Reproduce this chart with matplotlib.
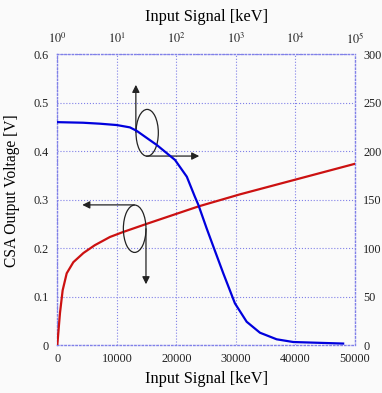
import matplotlib
matplotlib.use("Agg")
import matplotlib.pyplot as plt
from matplotlib.patches import Ellipse
from matplotlib.ticker import FixedLocator, FixedFormatter

# Red curve: CSA output voltage vs input signal (linear bottom axis, left axis)
red_x = [0, 170, 450, 900, 1580, 2700, 4400, 6300, 8850, 11000, 15000, 23700, 30700, 50000]
red_y = [0, 0.025, 0.066, 0.113, 0.148, 0.171, 0.190, 0.206, 0.223, 0.233, 0.250, 0.286, 0.311, 0.374]

# Blue curve: vs input signal on log top axis, right axis
blue_x = [1, 2.7, 5.2, 10, 16.6, 21.6, 47, 95, 150, 205, 235, 323, 420, 615, 965, 1520, 2540, 4850, 9200, 63500]
blue_y = [230, 229.4, 228.4, 227, 224.6, 221, 206.4, 191, 173.7, 153, 144.5, 120.4, 101.4, 74, 43, 24, 12.7, 5.9, 3.1, 1.5]

bottom_ticks = [0, 10000, 20000, 30000, 40000, 50000]
left_ticks = [0, 0.1, 0.2, 0.3, 0.4, 0.5, 0.6]
left_labels = ["0", "0.1", "0.2", "0.3", "0.4", "0.5", "0.6"]
right_ticks = [0, 50, 100, 150, 200, 250, 300]
top_ticks = [1, 10, 100, 1000, 10000, 100000]
top_labels = [r"$10^{0}$", r"$10^{1}$", r"$10^{2}$", r"$10^{3}$", r"$10^{4}$", r"$10^{5}$"]

plt.rcParams['font.family'] = ['Liberation Serif', 'DejaVu Serif']
plt.rcParams['mathtext.fontset'] = 'stix'

bg = '#fafafa'
gridc = '#8080e8'
fig = plt.figure(figsize=(3.82, 3.93), dpi=100, facecolor=bg)
pos = [0.150, 0.1221, 0.779, 0.7397]
ax = fig.add_axes(pos, facecolor=bg)
axt = fig.add_axes(pos, frameon=False)
axt.patch.set_alpha(0)

ax.set_xlim(0, 50000)
ax.set_ylim(0, 0.6)
ax.set_xticks(bottom_ticks)
ax.set_xticklabels([str(t) for t in bottom_ticks])
ax.set_yticks(left_ticks)
ax.set_yticklabels(left_labels)
ax.grid(True, color=gridc, linestyle=':', linewidth=0.8)
for s in ax.spines.values():
    s.set_color(gridc)
    s.set_linestyle(':')
    s.set_linewidth(1.0)
ax.tick_params(length=0, labelsize=8.8, colors='#222222', pad=6)
ax.set_xlabel("Input Signal [keV]", fontsize=11.8, labelpad=4)
ax.set_ylabel("CSA Output Voltage [V]", fontsize=11.2)
ax.yaxis.set_label_coords(-0.125, 0.53)

ax.plot(red_x, red_y, color='#cc1111', lw=1.6, zorder=3)

axt.set_xscale('log')
axt.set_xlim(1, 1e5)
axt.set_ylim(0, 300)
axt.xaxis.set_ticks_position('top')
axt.xaxis.set_label_position('top')
axt.yaxis.set_ticks_position('right')
axt.yaxis.set_label_position('right')
axt.xaxis.set_major_locator(FixedLocator(top_ticks))
axt.xaxis.set_major_formatter(FixedFormatter(top_labels))
axt.xaxis.set_minor_locator(FixedLocator([]))
axt.set_yticks(right_ticks)
axt.set_yticklabels([str(t) for t in right_ticks])
axt.tick_params(length=0, labelsize=8.8, colors='#222222', pad=6)
axt.set_xlabel("Input Signal [keV]", fontsize=11.8, labelpad=7)

axt.plot(blue_x, blue_y, color='#0000dd', lw=1.6, zorder=3)

# Ellipses and arrows (axes-fraction coordinates)
for (cx, cy, w, h) in [(0.302, 0.730, 0.075, 0.161), (0.260, 0.400, 0.076, 0.163)]:
    ax.add_patch(Ellipse((cx, cy), w, h, transform=ax.transAxes, fill=False,
                         edgecolor='#222222', lw=0.9, zorder=4))

arrows = [((0.264, 0.732), (0.264, 0.895)),
          ((0.300, 0.650), (0.477, 0.650)),
          ((0.259, 0.482), (0.084, 0.482)),
          ((0.298, 0.400), (0.298, 0.209))]
for start, end in arrows:
    ax.annotate("", xy=end, xytext=start, xycoords='axes fraction', textcoords='axes fraction',
                arrowprops=dict(arrowstyle='-|>', color='#222222', lw=0.9,
                                mutation_scale=11, shrinkA=0, shrinkB=0), zorder=5)

fig.savefig("out.png", dpi=100, facecolor=bg)
